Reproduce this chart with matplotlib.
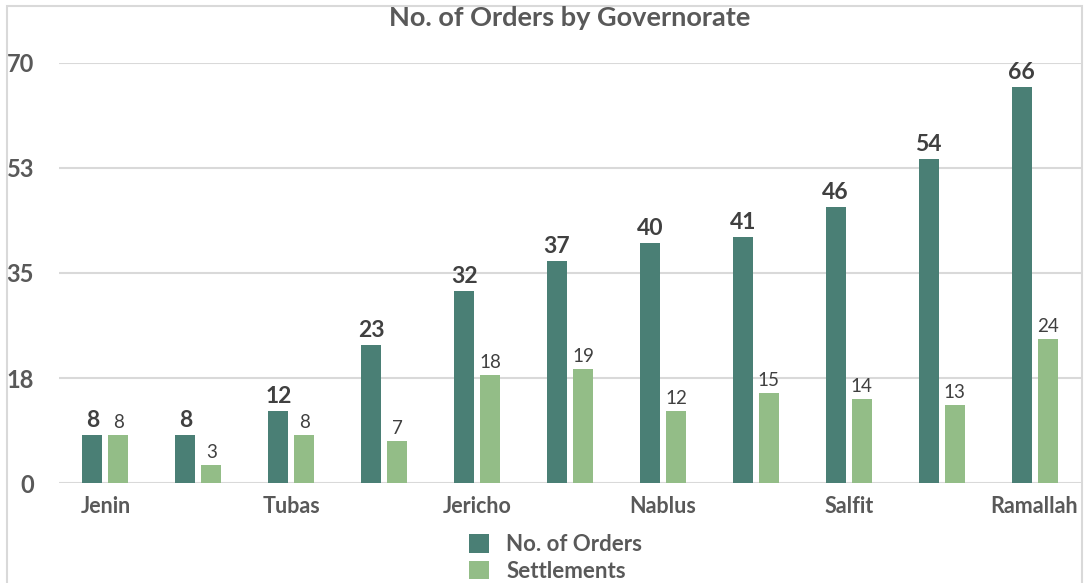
import numpy as np
import matplotlib.pyplot as plt
from matplotlib.patches import Rectangle

# Data
categories = ["Jenin", "", "Tubas", "", "Jericho", "", "Nablus", "", "Salfit", "", "Ramallah"]
orders = [8, 8, 12, 23, 32, 37, 40, 41, 46, 54, 66]
settlements = [8, 3, 8, 7, 18, 19, 12, 15, 14, 13, 24]
ytick_vals = [0, 17.5, 35, 52.5, 70]
ytick_labels = ["0", "18", "35", "53", "70"]

dark = "#4a7f75"
light = "#93bd87"
gray = "#595959"
label_col = "#404040"

plt.rcParams['font.family'] = ['Lato', 'DejaVu Sans']

fig = plt.figure(figsize=(10.85, 5.83), dpi=100)
ax = fig.add_axes([0.0544, 0.1715, 0.9419, 0.7205])

x = np.arange(len(categories))
w = 0.215
b1 = ax.bar(x - 0.14, orders, w, color=dark, label="No. of Orders")
b2 = ax.bar(x + 0.14, settlements, w, color=light, label="Settlements")

ax.bar_label(b1, padding=3, fontsize=16.5, fontweight="bold", color=label_col)
ax.bar_label(b2, padding=3, fontsize=13.5, color=label_col)

ax.set_xlim(-0.5, len(categories) - 0.5)
ax.set_ylim(0, 70)
ax.set_yticks(ytick_vals)
ax.set_yticklabels(ytick_labels)
ax.set_xticks(x)
ax.set_xticklabels(categories)
ax.tick_params(length=0)
ax.tick_params(axis="y", pad=18, labelsize=17, labelcolor=gray)
ax.tick_params(axis="x", pad=9, labelsize=15.5, labelcolor=gray)
for t in ax.get_xticklabels() + ax.get_yticklabels():
    t.set_fontweight("bold")

ax.grid(axis="y", color="#d9d9d9", linewidth=1.5)
ax.set_axisbelow(True)
for s in ax.spines.values():
    s.set_visible(False)

fig.suptitle("No. of Orders by Governorate", x=0.525, y=0.99, fontsize=19.5,
             fontweight="bold", color=gray)

leg = fig.legend(loc="center", bbox_to_anchor=(0.512, 0.043), ncol=1, frameon=False,
                 prop={"size": 16, "weight": "bold"}, handlelength=0.9, handleheight=0.9,
                 labelspacing=0.25, handletextpad=0.8, borderpad=0)
for t in leg.get_texts():
    t.set_color(gray)

# light chart border
fig.patches.append(Rectangle((7 / 1085, -0.05), 1075 / 1085, 1.05 - 6 / 583,
                             transform=fig.transFigure, fill=False,
                             edgecolor="#d9d9d9", linewidth=1.5))

fig.savefig("out.png")
